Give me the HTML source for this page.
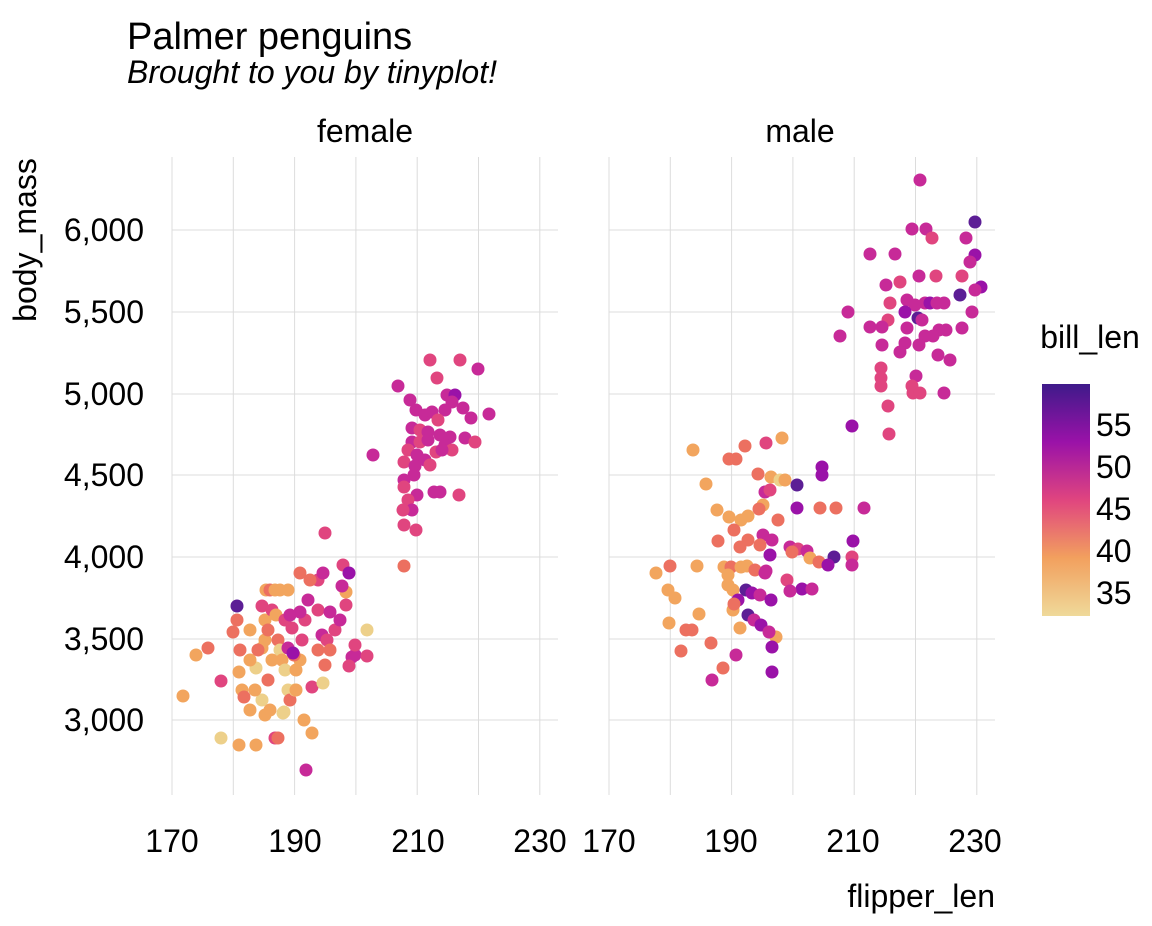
<!DOCTYPE html>
<html><head><meta charset="utf-8"><style>
body{margin:0;background:#fff;}
svg text{font-family:"Liberation Sans",sans-serif;fill:#000;}
</style></head><body>
<svg id="s" width="1152" height="921" xmlns="http://www.w3.org/2000/svg">
<defs><linearGradient id="g" x1="0" y1="0" x2="0" y2="1">
<stop offset="0" stop-color="#3f1a8a"/><stop offset="0.25" stop-color="#9a12a8"/><stop offset="0.5" stop-color="#e0457f"/><stop offset="0.75" stop-color="#f2a05e"/><stop offset="1" stop-color="#efd99a"/></linearGradient></defs>
<g id="grid" stroke="#dcdcdc" stroke-width="1"></g>
<g id="pts"></g>
<text x="127" y="49" font-size="38">Palmer penguins</text>
<text x="127" y="83" font-size="32" font-style="italic">Brought to you by tinyplot!</text>
<text x="365" y="142" font-size="32" text-anchor="middle">female</text>
<text x="800" y="142" font-size="32" text-anchor="middle">male</text>
<g font-size="32" text-anchor="end">
<text x="144" y="241">6,000</text><text x="144" y="323">5,500</text><text x="144" y="405">5,000</text>
<text x="144" y="486">4,500</text><text x="144" y="568">4,000</text><text x="144" y="650">3,500</text><text x="144" y="731">3,000</text>
</g>
<g font-size="32" text-anchor="middle">
<text x="172" y="852">170</text><text x="295" y="852">190</text><text x="418" y="852">210</text><text x="540" y="852">230</text>
<text x="609" y="852">170</text><text x="731" y="852">190</text><text x="853" y="852">210</text><text x="975" y="852">230</text>
</g>
<text transform="translate(36,240) rotate(-90)" font-size="32" text-anchor="middle">body_mass</text>
<text x="995" y="907" font-size="32" text-anchor="end">flipper_len</text>
<text x="1090" y="348" font-size="32" text-anchor="middle">bill_len</text>
<rect x="1042" y="384" width="48" height="232" fill="url(#g)"/>
<g font-size="32"><text x="1096" y="436">55</text><text x="1096" y="478">50</text><text x="1096" y="520">45</text><text x="1096" y="562">40</text><text x="1096" y="604">35</text></g>
</svg>
<script>
var ns="http://www.w3.org/2000/svg",G=document.getElementById("grid"),P=document.getElementById("pts");
function ln(a,b,c,d){var l=document.createElementNS(ns,"line");l.setAttribute("x1",a);l.setAttribute("y1",b);l.setAttribute("x2",c);l.setAttribute("y2",d);G.appendChild(l);}
[[172,558],[609,995]].forEach(function(p){var x0=p[0];for(var i=0;i<7;i++){var x=x0+i*61.3;ln(x,157,x,795);}
[230,312,394,475,557,639,720].forEach(function(y){ln(p[0],y,p[1],y);});});
var C=["#edd08a","#f2a55e","#ec7060","#e0457f","#c72a98","#9a12a8","#5c1e95"];
var D=[[398,386,4],[430,360,3],[460,360,3],[478,369,4],[437,378,3],[447,395,4],[455,395,5],[452,402,4],[445,410,4],[463,408,4],[471,418,4],[489,414,4],[410,400,4],[416,410,4],[425,415,4],[432,412,4],[438,420,3],[412,428,4],[420,430,3],[428,432,4],[440,435,4],[450,437,4],[465,438,4],[475,442,3],[412,442,4],[420,442,3],[428,440,4],[445,445,4],[452,450,3],[408,450,3],[417,455,4],[425,460,4],[436,452,3],[442,450,4],[404,462,3],[415,466,4],[430,465,3],[373,455,4],[404,480,4],[414,475,4],[404,487,3],[417,495,4],[408,500,3],[412,510,4],[403,510,3],[434,492,4],[440,492,4],[459,495,3],[404,525,3],[416,530,3],[404,566,2],
[183,696,1],[196,655,1],[208,648,2],[221,681,3],[233,632,2],[237,606,6],[237,620,2],[239,672,1],[221,738,0],[239,745,1],[242,690,1],[244,697,2],[250,710,1],[256,745,1],[256,668,0],[262,648,1],[265,640,1],[266,590,1],[270,590,2],[275,590,1],[280,590,1],[288,590,1],[300,573,2],[262,606,3],[265,620,1],[268,630,2],[272,610,3],[276,615,1],[278,640,2],[280,650,0],[282,660,1],[285,670,0],[262,700,0],[265,715,1],[270,710,1],[275,738,3],[278,738,2],[284,712,0],[288,690,0],[290,700,2],[295,690,0],[300,660,1],[302,640,3],[305,620,3],[308,600,4],[300,612,4],[292,628,3],[288,648,4],[296,690,1],[304,720,1],[306,770,4],[312,733,1],[318,580,3],[323,573,4],[325,533,3],[318,610,3],[322,635,4],[325,665,2],[327,640,3],[330,612,4],[335,630,3],[340,620,4],[343,565,3],[346,592,1],[342,586,4],[349,573,5],[352,657,4],[355,655,4],[349,666,3],[355,645,3],[367,630,0],[367,656,3],[346,605,3],[250,660,1],[255,690,1],[258,650,2],[268,680,2],[272,660,1],[285,620,3],[290,615,4],[294,655,2],[296,670,1],[312,687,3],[318,650,2],[330,650,2],[310,580,2],[250,630,1],[240,650,2],[293,653,5],[323,683,0],[283,713,0],
[920,180,4],[975,222,6],[912,229,4],[926,229,4],[932,238,3],[966,238,4],[975,255,5],[870,254,4],[895,254,4],[970,262,4],[919,276,4],[936,276,3],[962,276,3],[886,285,4],[981,287,5],[975,290,4],[900,282,3],[960,295,6],[907,300,4],[915,305,4],[925,303,4],[930,303,5],[937,303,4],[944,303,4],[890,303,3],[848,312,4],[905,312,5],[918,318,6],[972,312,4],[888,320,3],[922,320,4],[939,330,4],[946,330,4],[870,327,4],[882,327,4],[907,328,4],[962,328,4],[840,336,4],[925,336,4],[933,336,4],[905,343,4],[919,345,4],[882,345,4],[938,355,4],[950,360,4],[900,352,4],[881,368,3],[881,378,3],[881,386,3],[916,376,4],[912,386,3],[913,393,3],[920,393,3],[944,393,4],[888,406,3],[852,426,5],[889,434,3],
[693,450,1],[706,484,1],[729,459,2],[736,459,2],[766,443,3],[745,446,2],[782,438,1],[758,474,2],[771,477,1],[780,480,0],[785,480,1],[765,492,4],[763,505,1],[770,490,3],[797,485,6],[822,467,5],[822,475,5],[778,520,2],[759,509,2],[748,516,1],[741,520,1],[729,517,1],[717,510,1],[797,508,5],[820,508,2],[836,508,2],[864,508,4],[734,530,2],[748,540,2],[740,547,2],[718,541,2],[763,535,4],[772,540,4],[853,541,5],[790,547,4],[798,549,3],[807,551,4],[792,552,2],[810,558,1],[819,562,2],[834,557,6],[828,565,5],[852,557,3],[852,565,4],[770,555,5],[747,566,1],[755,570,2],[766,571,4],[697,566,1],[670,566,2],[656,573,1],[724,567,1],[731,567,2],[741,567,1],[728,575,1],[765,573,4],[787,580,3],[802,589,5],[790,591,4],[812,589,4],[668,590,1],[675,598,1],[728,585,1],[733,590,1],[746,590,6],[752,593,5],[760,595,4],[738,600,5],[771,600,5],[699,614,1],[669,623,1],[686,630,2],[692,630,2],[733,610,1],[748,615,6],[754,620,4],[761,625,5],[776,637,1],[769,632,4],[772,647,5],[711,643,2],[681,651,2],[736,655,4],[723,668,2],[772,672,5],[712,680,4],[734,604,2],[740,628,1],[760,545,2]];
D.forEach(function(d){var c=document.createElementNS(ns,"circle");c.setAttribute("cx",d[0]);c.setAttribute("cy",d[1]);c.setAttribute("r",6.5);c.setAttribute("fill",C[d[2]]);P.appendChild(c);});
</script>
</body></html>
